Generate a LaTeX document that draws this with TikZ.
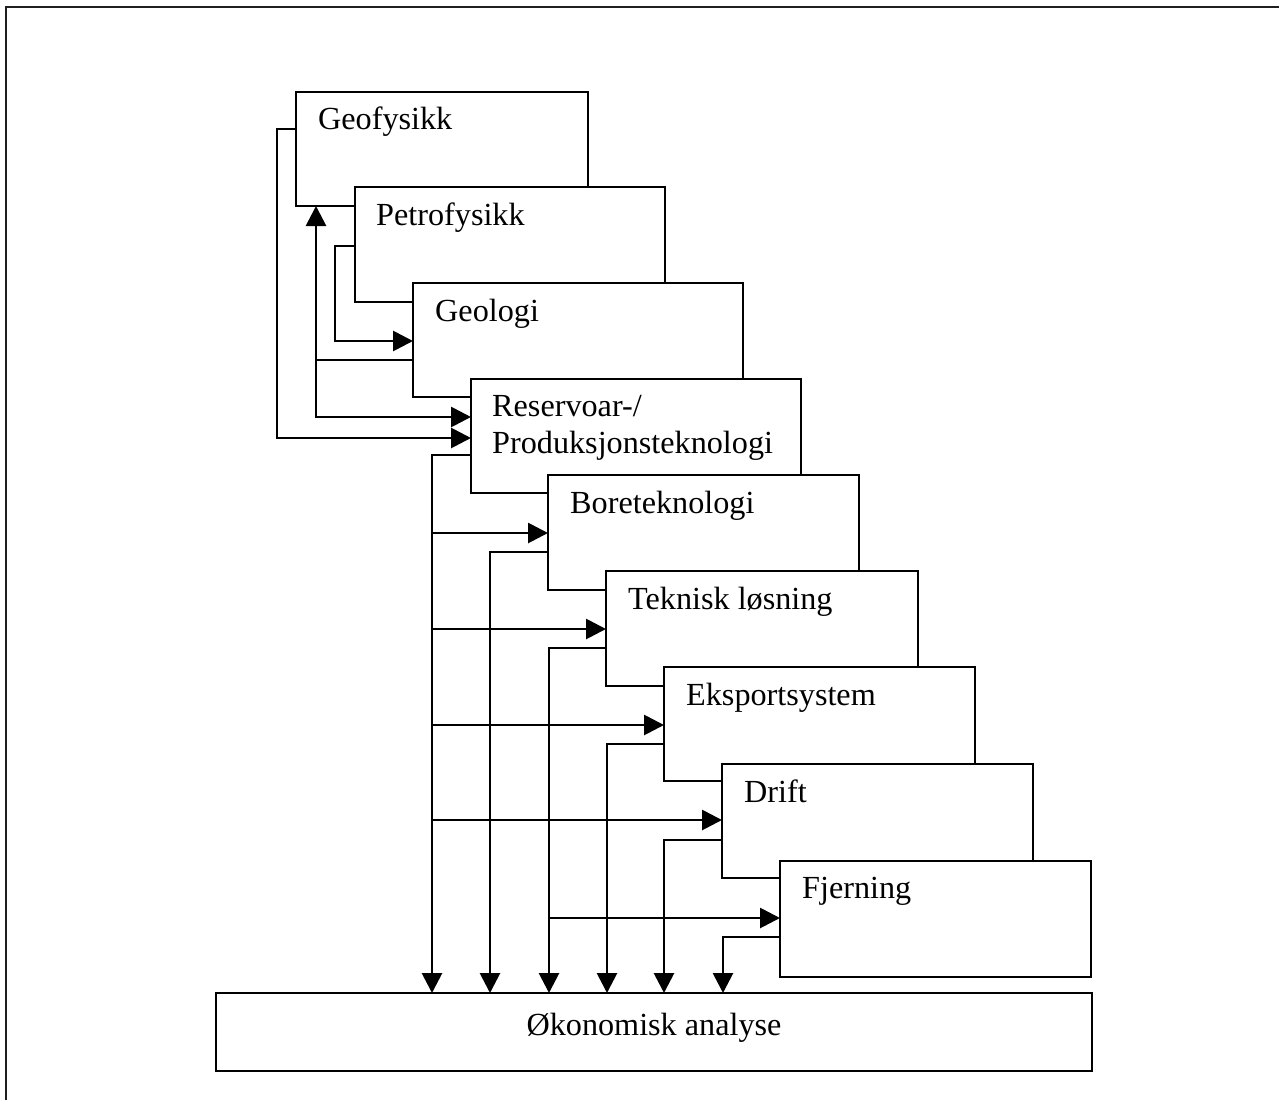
\documentclass[tikz,border=0pt]{standalone}
\usepackage{fontspec}
\setmainfont{Liberation Serif}
\usetikzlibrary{arrows.meta,calc}
\begin{document}
\begin{tikzpicture}[x=1pt,y=-1pt,
  box/.style={draw,line width=2.8pt,fill=white,anchor=north west,inner sep=0pt,outer sep=0pt},
  lbl/.style={anchor=base west,inner sep=0pt,font=\fontsize{32.2}{38}\selectfont},
  arr/.style={line width=2.8pt,-{Triangle[length=20pt,width=20pt]}},
  ln/.style={line width=2.8pt}]
\useasboundingbox (0,0) rectangle (1279,1100);
\draw[line width=2.5pt,color=black!88] (6,1100) -- (6,7) -- (1279,7);

% boxes
\node[box,minimum width=292pt,minimum height=114pt] (geo) at (296,92) {};
\node[lbl] (geot) at ($(geo.north west)+(22,37)$) {Geofysikk};
\node[box,minimum width=310pt,minimum height=115pt] (pet) at (355,187) {};
\node[lbl] (pett) at ($(pet.north west)+(21,38)$) {Petrofysikk};
\node[box,minimum width=330pt,minimum height=114pt] (gel) at (413,283) {};
\node[lbl] (gelt) at ($(gel.north west)+(22,38)$) {Geologi};
\node[box,minimum width=330pt,minimum height=114pt] (res) at (471,379) {};
\node[lbl] (rest1) at ($(res.north west)+(21,37)$) {Reservoar-/};
\node[lbl] (rest2) at ($(res.north west)+(21,74)$) {Produksjonsteknologi};
\node[box,minimum width=311pt,minimum height=115pt] (bor) at (548,475) {};
\node[lbl] (bort) at ($(bor.north west)+(22,38)$) {Boreteknologi};
\node[box,minimum width=312pt,minimum height=115pt] (tek) at (606,571) {};
\node[lbl] (tekt) at ($(tek.north west)+(22,38)$) {Teknisk løsning};
\node[box,minimum width=311pt,minimum height=114pt] (eks) at (664,667) {};
\node[lbl] (ekst) at ($(eks.north west)+(22,38)$) {Eksportsystem};
\node[box,minimum width=311pt,minimum height=114pt] (dri) at (722,764) {};
\node[lbl] (drit) at ($(dri.north west)+(22,38)$) {Drift};
\node[box,minimum width=311pt,minimum height=116pt] (fje) at (780,861) {};
\node[lbl] (fjet) at ($(fje.north west)+(22,37)$) {Fjerning};
\node[box,minimum width=876pt,minimum height=78pt] (oko) at (216,993) {};
\node[anchor=base,inner sep=0pt,font=\fontsize{32.2}{38}\selectfont] (okot) at ($(oko.north)+(0,42)$) {Økonomisk analyse};

% upper feedback connectors
\draw[arr] ($(geo.north west)+(0,37)$) -- ++(-19,0) |- ($(res.north west)+(0,59)$);
\draw[arr] ($(pet.north west)+(0,59)$) -- ++(-20,0) |- ($(gel.north west)+(0,58)$);
\coordinate (g1) at ($(gel.north west)+(0,77)$);
\coordinate (x1) at ($(geo.south west)+(20,0)$);
\draw[arr] (g1) -- (g1 -| x1) -- (x1);
\draw[arr] (g1 -| x1) |- ($(res.north west)+(0,38)$);

% Reservoar trunk
\coordinate (r0) at ($(res.north west)+(0,76)$);
\coordinate (tr) at ($(r0)+(-39,0)$);
\draw[arr] (r0) -- (tr) -- (tr |- oko.north);
\coordinate (b1) at ($(bor.north west)+(0,58)$);
\coordinate (b2) at ($(tek.north west)+(0,58)$);
\coordinate (b3) at ($(eks.north west)+(0,58)$);
\coordinate (b4) at ($(dri.north west)+(0,56)$);
\draw[arr] (tr |- b1) -- (b1);
\draw[arr] (tr |- b2) -- (b2);
\draw[arr] (tr |- b3) -- (b3);
\draw[arr] (tr |- b4) -- (b4);

% other departments to economic analysis
\coordinate (s1) at ($(bor.north west)+(0,77)$);
\draw[arr] (s1) -- ++(-58,0) coordinate (t1) -- (t1 |- oko.north);
\coordinate (s2) at ($(tek.north west)+(0,77)$);
\draw[arr] (s2) -- ++(-57,0) coordinate (t2) -- (t2 |- oko.north);
\coordinate (f1) at ($(fje.north west)+(0,57)$);
\draw[arr] (t2 |- f1) -- (f1);
\coordinate (s3) at ($(eks.north west)+(0,77)$);
\draw[arr] (s3) -- ++(-57,0) coordinate (t3) -- (t3 |- oko.north);
\coordinate (s4) at ($(dri.north west)+(0,76)$);
\draw[arr] (s4) -- ++(-58,0) coordinate (t4) -- (t4 |- oko.north);
\coordinate (s5) at ($(fje.north west)+(0,76)$);
\draw[arr] (s5) -- ++(-57,0) coordinate (t5) -- (t5 |- oko.north);
\end{tikzpicture}
\end{document}
